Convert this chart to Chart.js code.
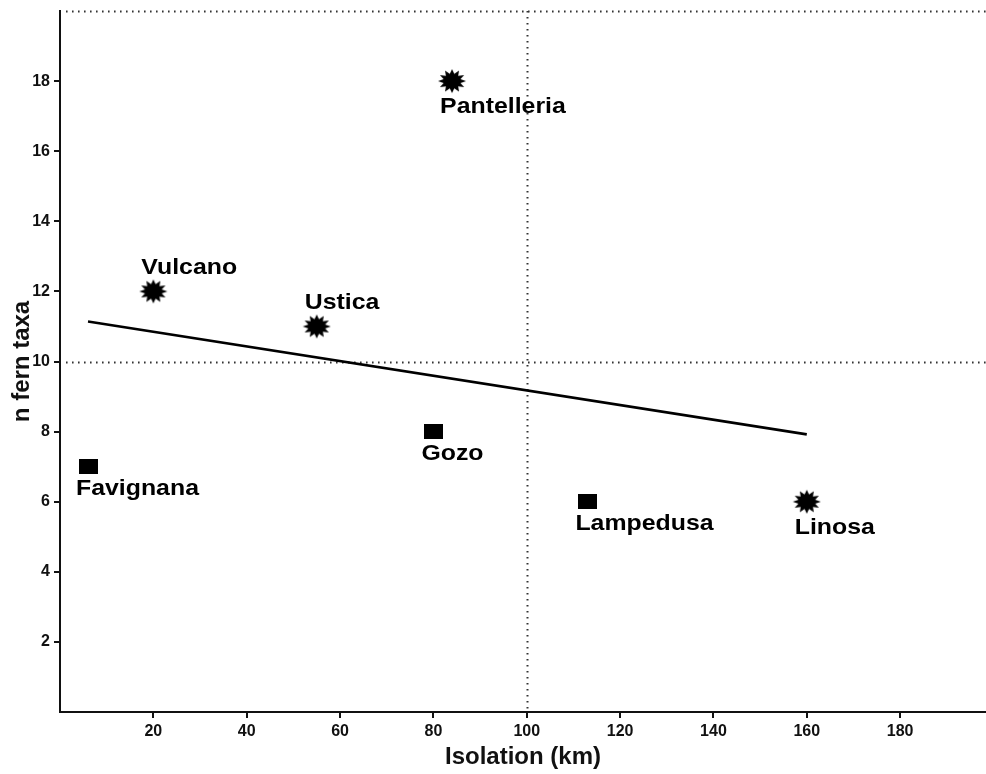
<!DOCTYPE html>
<html>
<head>
<meta charset="utf-8">
<script src="https://cdn.jsdelivr.net/npm/chart.js@4"></script>
<style>
  html, body { margin: 0; padding: 0; background: #fff; }
  canvas { display: block; }
</style>
</head>
<body>
<canvas id="chart" width="986" height="774"></canvas>
<script>
// islands, isolation (km) and number of fern taxa
const starNames = ['Pantelleria', 'Vulcano', 'Ustica', 'Linosa'];
const starIsolation = [84, 20, 55, 160];
const starTaxa = [18, 12, 11, 6];
const starLabelSide = ['below', 'above', 'above', 'below'];

const squareNames = ['Favignana', 'Gozo', 'Lampedusa'];
const squareIsolation = [6, 80, 113];
const squareTaxa = [7, 8, 6];
const squareLabelSide = ['below', 'below', 'below'];

// regression line end points
const trendX = [6, 160];
const trendY = [11.14, 7.92];

const xTicks = [20, 40, 60, 80, 100, 120, 140, 160, 180];
const yTicks = [2, 4, 6, 8, 10, 12, 14, 16, 18];
const refX = [100];
const refY = [10, 20];

function makeStar(rx, ry, n, inner) {
  const c = document.createElement('canvas');
  c.width = rx * 2 + 2;
  c.height = ry * 2 + 2;
  const g = c.getContext('2d');
  g.beginPath();
  for (let i = 0; i < n * 2; i++) {
    const a = i * Math.PI / n - Math.PI / 2;
    const r = i % 2 ? inner : 1;
    g.lineTo(c.width / 2 + Math.cos(a) * rx * r, c.height / 2 + Math.sin(a) * ry * r);
  }
  g.closePath();
  g.fillStyle = '#000';
  g.fill();
  return c;
}

function makeSquare(w, h) {
  const c = document.createElement('canvas');
  c.width = w;
  c.height = h;
  const g = c.getContext('2d');
  g.fillStyle = '#000';
  g.fillRect(0, 0, w, h);
  return c;
}

const starImg = makeStar(14, 12, 12, 0.62);
const squareImg = makeSquare(19, 15);

const toPoints = (xs, ys) => xs.map((x, i) => ({ x: x, y: ys[i] }));

// dotted reference lines
const refLines = {
  id: 'refLines',
  beforeDatasetsDraw(chart) {
    const { ctx, chartArea: a, scales: { x, y } } = chart;
    ctx.save();
    ctx.strokeStyle = '#333';
    ctx.lineWidth = 2;
    ctx.setLineDash([1.6, 4.4]);
    refY.forEach(v => {
      const py = Math.round(y.getPixelForValue(v)) + 0.5;
      ctx.beginPath();
      ctx.moveTo(a.left + 6, py);
      ctx.lineTo(a.right, py);
      ctx.stroke();
    });
    refX.forEach(v => {
      const px = Math.round(x.getPixelForValue(v)) + 0.5;
      ctx.beginPath();
      ctx.moveTo(px, a.top);
      ctx.lineTo(px, a.bottom);
      ctx.stroke();
    });
    ctx.restore();
  }
};

// island names next to the markers
const islandLabels = {
  id: 'islandLabels',
  afterDatasetsDraw(chart) {
    const { ctx } = chart;
    const groups = [
      { meta: chart.getDatasetMeta(0), names: starNames, side: starLabelSide, below: 32 },
      { meta: chart.getDatasetMeta(1), names: squareNames, side: squareLabelSide, below: 28 }
    ];
    ctx.save();
    ctx.fillStyle = '#000';
    ctx.font = 'bold 22px "Liberation Sans", Arial, sans-serif';
    ctx.textAlign = 'left';
    ctx.textBaseline = 'alphabetic';
    groups.forEach(g => {
      g.meta.data.forEach((pt, i) => {
        const dy = g.side[i] === 'above' ? -17 : g.below;
        ctx.save();
        ctx.translate(pt.x - 12, pt.y + dy);
        ctx.scale(1.13, 1);
        ctx.fillText(g.names[i], 0, 0);
        ctx.restore();
      });
    });
    ctx.restore();
  }
};

const tickFont = { family: '"Liberation Sans", Arial, sans-serif', size: 16, weight: 'bold' };
const titleFont = { family: '"Liberation Sans", Arial, sans-serif', size: 24, weight: 'bold' };

new Chart(document.getElementById('chart'), {
  type: 'scatter',
  data: {
    datasets: [
      {
        label: 'stars',
        data: toPoints(starIsolation, starTaxa),
        pointStyle: starImg,
        pointRadius: 12
      },
      {
        label: 'squares',
        data: toPoints(squareIsolation, squareTaxa),
        pointStyle: squareImg,
        pointRadius: 10
      },
      {
        type: 'line',
        label: 'trend',
        data: toPoints(trendX, trendY),
        borderColor: '#000',
        borderWidth: 2.6,
        pointRadius: 0,
        fill: false
      }
    ]
  },
  options: {
    responsive: false,
    animation: false,
    layout: { autoPadding: false, padding: { top: 11, right: 0, left: 0, bottom: 0 } },
    plugins: {
      legend: { display: false },
      tooltip: { enabled: false }
    },
    scales: {
      x: {
        type: 'linear',
        min: 0,
        max: 198.4,
        afterBuildTicks: s => { s.ticks = xTicks.map(v => ({ value: v })); },
        afterFit: s => { s.height = 62; s.paddingRight = 0; s.paddingLeft = 0; },
        border: { display: true, color: '#111', width: 2 },
        grid: { drawOnChartArea: false, drawTicks: true, tickLength: 6, color: '#111', lineWidth: 2 },
        ticks: { color: '#111', font: tickFont, padding: 4, maxRotation: 0 },
        title: { display: true, text: 'Isolation (km)', color: '#111', font: titleFont, padding: { top: 0, bottom: 2 } }
      },
      y: {
        type: 'linear',
        min: 0,
        max: 20,
        afterBuildTicks: s => { s.ticks = yTicks.map(v => ({ value: v })); },
        afterFit: s => { s.width = 60; s.paddingTop = 0; s.paddingBottom = 0; },
        border: { display: true, color: '#111', width: 2 },
        grid: { drawOnChartArea: false, drawTicks: true, tickLength: 6, color: '#111', lineWidth: 2 },
        ticks: { color: '#111', font: tickFont, padding: 4 },
        title: { display: true, text: 'n fern taxa', color: '#111', font: titleFont, padding: { top: 8, bottom: 0 } }
      }
    }
  },
  plugins: [refLines, islandLabels]
});
</script>
</body>
</html>
